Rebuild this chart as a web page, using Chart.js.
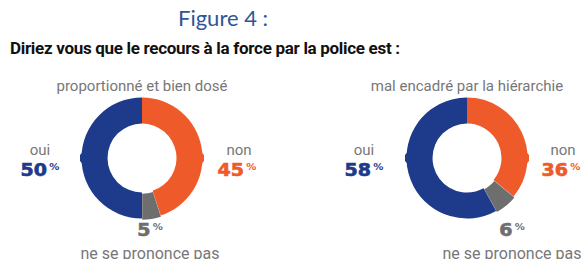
<!DOCTYPE html>
<html>
<head>
<meta charset="utf-8">
<script src="https://cdn.jsdelivr.net/npm/chart.js@4"></script>
<style>
  body { margin: 0; width: 584px; height: 259px; background: #fff; position: relative; overflow: hidden; font-family: Roboto, sans-serif; }
  .abs { position: absolute; white-space: nowrap; }
  .fig { left: 178px; top: 4px; font-family: Lato, sans-serif; font-size: 22px; color: #2f5597; }
  .question { left: 10px; top: 38px; font-size: 17px; font-weight: bold; color: #111; letter-spacing: -0.3px; }
  .sub { top: 77px; font-size: 15px; color: #777; transform: translateX(-50%); }
  .lbl { font-size: 15px; color: #777; transform: translateX(-50%); }
  .nsp { font-size: 16px; }
  .pct { font-family: "DejaVu Sans", sans-serif; font-weight: bold; font-size: 17px; transform: translateX(-50%) scaleX(1.12); -webkit-text-stroke: 0.6px currentColor; }
  .pct sup { font-size: 9px; vertical-align: 6px; margin-left: 2px; -webkit-text-stroke: 0; }
  canvas { position: absolute; }
</style>
</head>
<body>
<div class="abs fig">Figure 4 :</div>
<div class="abs question">Diriez vous que le recours à la force par la police est :</div>

<div class="abs sub" style="left:142px">proportionné et bien dosé</div>
<div class="abs sub" style="left:467px">mal encadré par la hiérarchie</div>

<canvas id="chart1" width="124" height="124" style="left:80px;top:96px"></canvas>
<canvas id="chart2" width="124" height="124" style="left:405px;top:96px"></canvas>

<div id="labels"></div>

<script>
// réponses
var categories = ["non", "ne se prononce pas", "oui"];
var colors = ["#ef5a2a", "#6e6e6e", "#1e3a8a"];
var titles = ["proportionné et bien dosé", "mal encadré par la hiérarchie"];
var values1 = [45, 5, 50];
var values2 = [36, 6, 58];

// petits triangles sur les côtés de l'anneau
var notchPlugin = {
    id: 'notches',
    afterDatasetsDraw: function (chart) {
        var arc = chart.getDatasetMeta(0).data[0];
        var ctx = chart.ctx;
        var cx = arc.x, cy = arc.y, r = arc.outerRadius;
        ctx.save();
        // côté droit (orange)
        ctx.fillStyle = colors[0];
        ctx.beginPath();
        ctx.moveTo(cx + r - 2, cy - 7);
        ctx.lineTo(cx + r + 4, cy);
        ctx.lineTo(cx + r - 2, cy + 7);
        ctx.fill();
        // côté gauche (bleu)
        ctx.fillStyle = colors[2];
        ctx.beginPath();
        ctx.moveTo(cx - r + 2, cy - 7);
        ctx.lineTo(cx - r - 4, cy);
        ctx.lineTo(cx - r + 2, cy + 7);
        ctx.fill();
        ctx.restore();
    }
};

function createDonut(canvasId, data) {
    new Chart(document.getElementById(canvasId), {
        type: 'doughnut',
        data: {
            labels: categories,
            datasets: [{
                data: data,
                backgroundColor: colors,
                borderWidth: 0,
                offset: [0, 3, 0]
            }]
        },
        options: {
            responsive: false,
            animation: false,
            cutout: '57%',
            rotation: 0,
            plugins: {
                legend: { display: false },
                tooltip: { enabled: false }
            }
        },
        plugins: [notchPlugin]
    });
}

createDonut('chart1', values1);
createDonut('chart2', values2);

// étiquettes
function addLabel(html, cls, x, y, color) {
    var d = document.createElement('div');
    d.className = 'abs ' + cls;
    d.style.left = x + 'px';
    d.style.top = y + 'px';
    if (color) d.style.color = color;
    d.innerHTML = html;
    document.getElementById('labels').appendChild(d);
}

var panels = [
    { values: values1, ouiX: 40, nonX: 237, nspX: 150 },
    { values: values2, ouiX: 364, nonX: 561, nspX: 512 }
];
panels.forEach(function (p) {
    addLabel(categories[2], 'lbl', p.ouiX, 141);
    addLabel(p.values[2] + '<sup>%</sup>', 'pct', p.ouiX, 160, colors[2]);
    addLabel(categories[0], 'lbl', p.nonX + 2, 141);
    addLabel(p.values[0] + '<sup>%</sup>', 'pct', p.nonX, 160, colors[0]);
    addLabel(p.values[1] + '<sup>%</sup>', 'pct', p.nspX, 220, colors[1]);
    addLabel(categories[1], 'lbl nsp', p.nspX, 244);
});
</script>
</body>
</html>
